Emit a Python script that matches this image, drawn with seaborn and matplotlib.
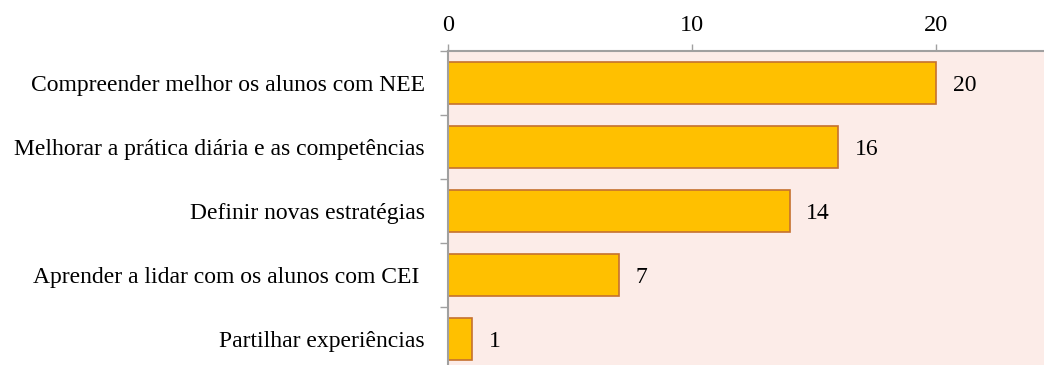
import matplotlib
matplotlib.use("Agg")
import matplotlib.pyplot as plt
import seaborn as sns
import pandas as pd
from matplotlib.ticker import FixedLocator

categories = [
    "Compreender melhor os alunos com NEE",
    "Melhorar a prática diária e as competências",
    "Definir novas estratégias",
    "Aprender a lidar com os alunos com CEI ",
    "Partilhar experiências",
]
values = [20, 16, 14, 7, 1]
x_ticks = [0, 10, 20]

df = pd.DataFrame({"motivo": categories, "n": values})

sns.set_theme(style="white")
plt.rcParams["font.family"] = ["Liberation Serif", "DejaVu Serif"]

fig = plt.figure(figsize=(10.44, 3.65), dpi=100)
ax = fig.add_axes([448 / 1044, 1 - 371 / 365, 1 - 448 / 1044, 320 / 365])
ax.set_facecolor("#FCECE8")

sns.barplot(data=df, x="n", y="motivo", orient="h", ax=ax,
            color="#FFC000", saturation=1, width=0.66,
            edgecolor="#C5712F", linewidth=1.2)

ax.set_xlim(0, 24.43)
ax.set_ylim(4.5, -0.5)
ax.set_xlabel("")
ax.set_ylabel("")

# value axis on top
ax.xaxis.set_ticks_position("top")
ax.xaxis.set_label_position("top")
ax.set_xticks(x_ticks)
ax.tick_params(axis="x", which="major", direction="out", length=5, width=1,
               color="#A0A0A0", pad=5.5, labelsize=17.5, labelcolor="black")

# category labels without marks; boundary marks as minor ticks
ax.tick_params(axis="y", which="major", length=0, pad=16.5, labelsize=17,
               labelcolor="black")
ax.yaxis.set_minor_locator(FixedLocator([i - 0.5 for i in range(len(categories) + 1)]))
ax.tick_params(axis="y", which="minor", direction="out", length=6, width=1,
               color="#A0A0A0", left=True)

for side in ["right", "bottom"]:
    ax.spines[side].set_visible(False)
for side in ["top", "left"]:
    ax.spines[side].set_visible(True)
    ax.spines[side].set_color("#A0A0A0")
    ax.spines[side].set_linewidth(1.5)

for i, v in enumerate(values):
    ax.annotate(str(v), xy=(v, i), xytext=(12, -2), textcoords="offset points",
                ha="left", va="center", fontsize=17, color="black")

fig.savefig("out.png", dpi=100)
